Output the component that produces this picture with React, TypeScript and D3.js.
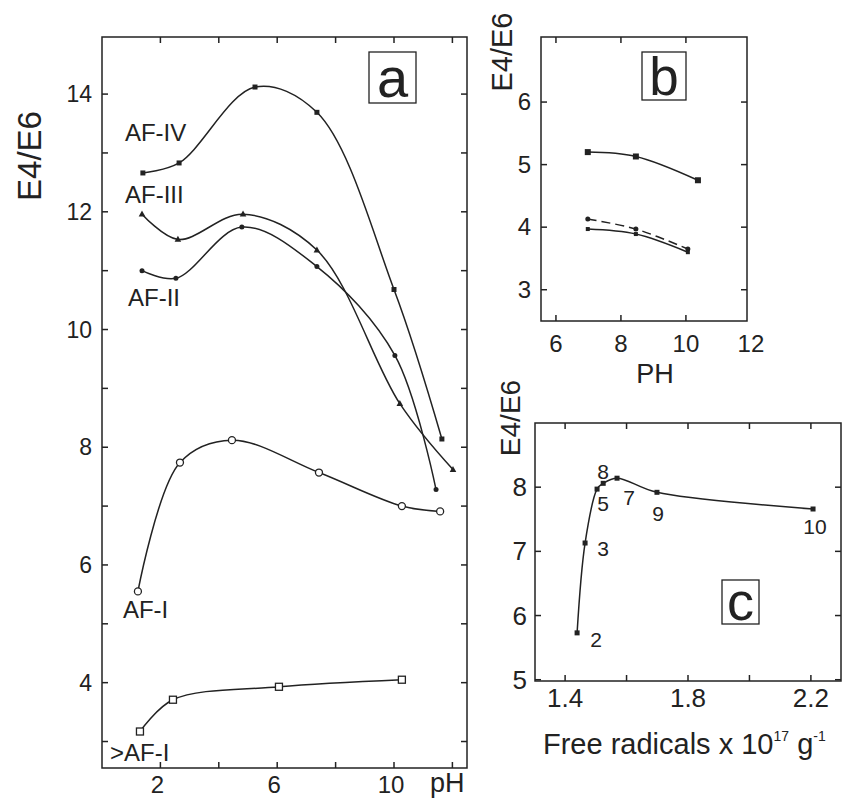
import React from 'react';
import * as d3 from 'd3';

// ---------------- Panel a data (pH vs E4/E6) ----------------
const seriesNamesA = ['AF-IV', 'AF-III', 'AF-II', 'AF-I', '>AF-I'];
const afIV_pH = [1.40, 2.64, 5.24, 7.36, 10.0, 11.64];
const afIV_E = [12.66, 12.83, 14.12, 13.69, 10.68, 8.14];
const afIII_pH = [1.37, 2.60, 4.83, 7.36, 10.2, 12.02];
const afIII_E = [11.96, 11.53, 11.96, 11.35, 8.74, 7.62];
const afII_pH = [1.37, 2.53, 4.79, 7.36, 10.03, 11.44];
const afII_E = [11.0, 10.87, 11.74, 11.07, 9.56, 7.28];
const afI_pH = [1.23, 2.67, 4.45, 7.43, 10.27, 11.58];
const afI_E = [5.55, 7.74, 8.12, 7.57, 7.0, 6.91];
const gtAfI_pH = [1.30, 2.43, 6.06, 10.27];
const gtAfI_E = [3.17, 3.71, 3.93, 4.05];
const aXTicks = [2, 4, 6, 8, 10, 12];
const aXLabels = [2, 6, 10];
const aYTicks = [3, 4, 5, 6, 7, 8, 9, 10, 11, 12, 13, 14];
const aYLabels = [4, 6, 8, 10, 12, 14];

// ---------------- Panel b data (PH vs E4/E6) ----------------
const b1_pH = [6.98, 8.46, 10.37];
const b1_E = [5.2, 5.13, 4.75];
const b2_pH = [6.98, 8.46, 10.06];
const b2_E = [4.13, 3.97, 3.65];
const b3_pH = [6.98, 8.46, 10.06];
const b3_E = [3.97, 3.89, 3.6];
const bXTicks = [6, 8, 10];
const bXLabels = [6, 8, 10, 12];
const bYTicks = [3, 4, 5, 6];
const bYLabels = [3, 4, 5, 6];

// ---------------- Panel c data (free radicals vs E4/E6) ----------------
const cRadicals = [1.439, 1.465, 1.504, 1.524, 1.569, 1.699, 2.207];
const cE = [5.73, 7.13, 7.97, 8.06, 8.14, 7.92, 7.66];
const cPointLabels = ['2', '3', '5', '8', '7', '9', '10'];
const cXTicks = [1.4, 1.6, 1.8, 2.0, 2.2];
const cXLabels = ['1.4', '1.8', '2.2'];
const cYTicks = [5, 6, 7, 8];
const cYLabels = [5, 6, 7, 8];

const FONT = '"Liberation Sans", Arial, Helvetica, sans-serif';
const INK = '#222';
const LW = 1.5;
const TICK = 6;

type Pt = [number, number];
const zip = (xs: number[], ys: number[]): Pt[] => xs.map((x, i) => [x, ys[i]]);

function Marker({ type, x, y, s }: { type: string; x: number; y: number; s: number }) {
  if (type === 'sq') return <rect x={x - s / 2} y={y - s / 2} width={s} height={s} fill={INK} />;
  if (type === 'osq')
    return <rect x={x - s / 2} y={y - s / 2} width={s} height={s} fill="#fff" stroke={INK} strokeWidth={1.3} />;
  if (type === 'tri')
    return (
      <path
        d={`M${x},${y - s * 0.6} L${x + s * 0.55},${y + s * 0.4} L${x - s * 0.55},${y + s * 0.4} Z`}
        fill={INK}
      />
    );
  if (type === 'ocirc') return <circle cx={x} cy={y} r={s / 2} fill="#fff" stroke={INK} strokeWidth={1.3} />;
  return <circle cx={x} cy={y} r={s / 2} fill={INK} />;
}

function Axes({
  x,
  y,
  xTicks,
  yTicks,
}: {
  x: d3.ScaleLinear<number, number>;
  y: d3.ScaleLinear<number, number>;
  xTicks: number[];
  yTicks: number[];
}) {
  const [x0, x1] = x.range();
  const [y0, y1] = y.range(); // y0 bottom, y1 top
  return (
    <g stroke={INK} strokeWidth={LW} fill="none">
      <rect x={x0} y={y1} width={x1 - x0} height={y0 - y1} />
      {xTicks.map((t) => (
        <g key={'x' + t}>
          <line x1={x(t)} x2={x(t)} y1={y0} y2={y0 - TICK} />
          <line x1={x(t)} x2={x(t)} y1={y1} y2={y1 + TICK} />
        </g>
      ))}
      {yTicks.map((t) => (
        <g key={'y' + t}>
          <line x1={x0} x2={x0 + TICK} y1={y(t)} y2={y(t)} />
          <line x1={x1} x2={x1 - TICK} y1={y(t)} y2={y(t)} />
        </g>
      ))}
    </g>
  );
}

const curve = d3.curveCatmullRom.alpha(0.5);

export default function App() {
  // scales panel a
  const ax = d3.scaleLinear().domain([0, 12.5]).range([102, 467]);
  const ay = d3.scaleLinear().domain([2.55, 14.97]).range([768, 37]);
  const aLine = d3
    .line<Pt>()
    .x((d) => ax(d[0]))
    .y((d) => ay(d[1]))
    .curve(curve);

  const aSeries = [
    { pts: zip(afIV_pH, afIV_E), marker: 'sq', size: 5, lab: [-18, -32] },
    { pts: zip(afIII_pH, afIII_E), marker: 'tri', size: 6, lab: [-17, -11] },
    { pts: zip(afII_pH, afII_E), marker: 'dot', size: 5, lab: [-14, 35] },
    { pts: zip(afI_pH, afI_E), marker: 'ocirc', size: 7, lab: [-15, 27] },
    { pts: zip(gtAfI_pH, gtAfI_E), marker: 'osq', size: 7, lab: [-30, 29] },
  ];

  // scales panel b
  const bx = d3.scaleLinear().domain([5.54, 11.88]).range([541, 747]);
  const by = d3.scaleLinear().domain([2.5, 7.04]).range([321, 37]);
  const bLine = d3
    .line<Pt>()
    .x((d) => bx(d[0]))
    .y((d) => by(d[1]))
    .curve(curve);
  const bSeries = [
    { pts: zip(b1_pH, b1_E), marker: 'sq', size: 6, dash: undefined as string | undefined },
    { pts: zip(b2_pH, b2_E), marker: 'dot', size: 5, dash: '9,5' },
    { pts: zip(b3_pH, b3_E), marker: 'sq', size: 4, dash: undefined },
  ];

  // scales panel c
  const cx = d3.scaleLinear().domain([1.302, 2.298]).range([535, 841]);
  const cy = d3.scaleLinear().domain([4.98, 9.0]).range([681, 423]);
  const cLine = d3
    .line<Pt>()
    .x((d) => cx(d[0]))
    .y((d) => cy(d[1]))
    .curve(curve);
  const cPts = zip(cRadicals, cE);
  const cLabOff: Pt[] = [
    [19, 7],
    [18, 5],
    [6, 14],
    [0, -12],
    [12, 19],
    [1, 21],
    [2, 17],
  ];

  const tickFont = 23;
  return (
    <svg
      width={842}
      height={801}
      viewBox="0 0 842 801"
      style={{ position: 'absolute', left: 0, top: 0, background: '#fff' }}
      fontFamily={FONT}
    >
      <rect x={0} y={0} width={842} height={801} fill="#fff" />

      {/* ================= Panel a ================= */}
      <Axes x={ax} y={ay} xTicks={aXTicks} yTicks={aYTicks} />
      {aYLabels.map((v) => (
        <text key={'ayl' + v} x={92} y={ay(v) + 8} fontSize={tickFont} textAnchor="end" fill={INK}>
          {v}
        </text>
      ))}
      {aXLabels.map((v) => (
        <text key={'axl' + v} x={ax(v) - 3} y={793} fontSize={24} textAnchor="middle" fill={INK}>
          {v}
        </text>
      ))}
      <text x={430} y={792} fontSize={27} fill={INK}>
        pH
      </text>
      <text transform="translate(41,156) rotate(-90)" fontSize={33} textAnchor="middle" fill={INK}>
        E4/E6
      </text>
      <rect x={369} y={52} width={47} height={51} fill="none" stroke={INK} strokeWidth={1.3} />
      <text x={392.5} y={97} fontSize={56} textAnchor="middle" fill={INK}>
        a
      </text>
      {aSeries.map((s, i) => (
        <g key={'as' + i}>
          <path d={aLine(s.pts) || ''} fill="none" stroke={INK} strokeWidth={LW} />
          {s.pts.map((p, j) => (
            <Marker key={j} type={s.marker} x={ax(p[0])} y={ay(p[1])} s={s.size} />
          ))}
          <text
            x={ax(s.pts[0][0]) + s.lab[0]}
            y={ay(s.pts[0][1]) + s.lab[1]}
            fontSize={24}
            fill={INK}
          >
            {seriesNamesA[i]}
          </text>
        </g>
      ))}

      {/* ================= Panel b ================= */}
      <Axes x={bx} y={by} xTicks={bXTicks} yTicks={bYTicks} />
      {bYLabels.map((v) => (
        <text key={'byl' + v} x={531} y={by(v) + 8} fontSize={24} textAnchor="end" fill={INK}>
          {v}
        </text>
      ))}
      {bXLabels.map((v) => (
        <text key={'bxl' + v} x={bx(v)} y={352} fontSize={24} textAnchor="middle" fill={INK}>
          {v}
        </text>
      ))}
      <text x={655} y={383} fontSize={27} textAnchor="middle" fill={INK}>
        PH
      </text>
      <text transform="translate(512,52) rotate(-90)" fontSize={29} textAnchor="middle" fill={INK}>
        E4/E6
      </text>
      <rect x={642} y={52} width={44} height={48} fill="none" stroke={INK} strokeWidth={1.3} />
      <text x={664} y={95} fontSize={53} textAnchor="middle" fill={INK}>
        b
      </text>
      {bSeries.map((s, i) => (
        <g key={'bs' + i}>
          <path
            d={bLine(s.pts) || ''}
            fill="none"
            stroke={INK}
            strokeWidth={LW}
            strokeDasharray={s.dash}
          />
          {s.pts.map((p, j) => (
            <Marker key={j} type={s.marker} x={bx(p[0])} y={by(p[1])} s={s.size} />
          ))}
        </g>
      ))}

      {/* ================= Panel c ================= */}
      <Axes x={cx} y={cy} xTicks={cXTicks} yTicks={cYTicks} />
      {cYLabels.map((v) => (
        <text key={'cyl' + v} x={527} y={cy(v) + 9} fontSize={26} textAnchor="end" fill={INK}>
          {v}
        </text>
      ))}
      {cXLabels.map((v) => (
        <text key={'cxl' + v} x={cx(+v)} y={707} fontSize={26} textAnchor="middle" fill={INK}>
          {v}
        </text>
      ))}
      <text x={543} y={754} fontSize={29} fill={INK}>
        Free radicals x 10
        <tspan fontSize={14} dy={-13}>
          17
        </tspan>
        <tspan fontSize={29} dy={13}>
          {' g'}
        </tspan>
        <tspan fontSize={14} dy={-13}>
          -1
        </tspan>
      </text>
      <text transform="translate(520,418) rotate(-90)" fontSize={28} textAnchor="middle" fill={INK}>
        E4/E6
      </text>
      <rect x={722} y={580} width={37} height={44} fill="none" stroke={INK} strokeWidth={1.3} />
      <text x={740.5} y={620} fontSize={54} textAnchor="middle" fill={INK}>
        c
      </text>
      <path d={cLine(cPts) || ''} fill="none" stroke={INK} strokeWidth={LW} />
      {cPts.map((p, j) => (
        <Marker key={'cm' + j} type="sq" x={cx(p[0])} y={cy(p[1])} s={5} />
      ))}
      {cPts.map((p, j) => (
        <text
          key={'cl' + j}
          x={cx(p[0]) + cLabOff[j][0]}
          y={cy(p[1]) + cLabOff[j][1] + 7.5}
          fontSize={21}
          textAnchor="middle"
          fill={INK}
        >
          {cPointLabels[j]}
        </text>
      ))}
    </svg>
  );
}
